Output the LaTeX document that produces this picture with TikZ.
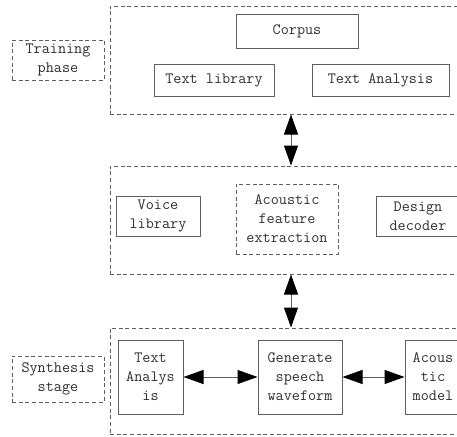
\documentclass[tikz,border=0pt]{standalone}
\usetikzlibrary{arrows.meta,fit}
\definecolor{linegray}{HTML}{5E5E5E}
\definecolor{txtgray}{HTML}{2E2E2E}
\begin{document}
\begin{tikzpicture}[x=0.75pt,y=-0.75pt,
  box/.style={draw=linegray, line width=0.75pt, inner sep=0pt},
  dbox/.style={box, dash pattern=on 3pt off 2pt},
  txt/.style={inner sep=0pt, align=center, text=txtgray,
    font=\fontsize{11.8}{14.2}\selectfont\ttfamily},
  arr/.style={draw=linegray, line width=0.75pt,
    {Triangle[length=15pt,width=10.5pt,color=black]}-{Triangle[length=15pt,width=10.5pt,color=black]}}]
\useasboundingbox (0,0) rectangle (457,436);
\clip (0,0) rectangle (457,436);
% training
\node[dbox, fit={(110,6) (470,114)}] (train) {};
\node[dbox, fit={(12,40) (104,80)}] (trainlbl) {};
\node[txt] at (trainlbl) {Training\\phase};
\node[box, fit={(236,14) (358,48)}] (corpus) {};
\node[txt] at (corpus) {Corpus};
\node[box, fit={(154,64) (274,96)}] (textlib) {};
\node[txt] at (textlib) {Text library};
\node[box, fit={(312,64) (449,96)}] (textana) {};
\node[txt] at (textana) {Text Analysis};
% middle
\node[dbox, fit={(110,166) (470,274)}] (mid) {};
\node[box, fit={(116,196) (200,236)}] (voice) {};
\node[txt] at (voice) {Voice\\library};
\node[dbox, fit={(236,184) (338,254)}] (acoustic) {};
\node[txt] at (acoustic) {Acoustic\\feature\\extraction};
\node[box, fit={(376,196) (460,236)}] (design) {};
\node[txt] at (design) {Design\\decoder};
% synthesis
\node[dbox, fit={(110,328) (470,434)}] (synth) {};
\node[dbox, fit={(12,356) (104,402)}] (synthlbl) {};
\node[txt] at (synthlbl) {Synthesis\\stage};
\node[box, fit={(118,340) (183,414)}] (tana) {};
\node[txt] at (tana) {Text\\Analys\\is};
\node[box, fit={(258,340) (342,414)}] (gen) {};
\node[txt] at (gen) {Generate\\speech\\waveform};
\node[box, fit={(405,340) (461,414)}] (acmodel) {};
\node[txt] at (acmodel) {Acous\\tic\\model};
% arrows
\coordinate (ax) at (291,0);
\draw[arr] (ax |- train.south) -- (ax |- mid.north);
\draw[arr] (ax |- mid.south) -- (ax |- synth.north);
\draw[arr] (tana.east) -- (gen.west);
\draw[arr] (gen.east) -- (acmodel.west);
\end{tikzpicture}
\end{document}
